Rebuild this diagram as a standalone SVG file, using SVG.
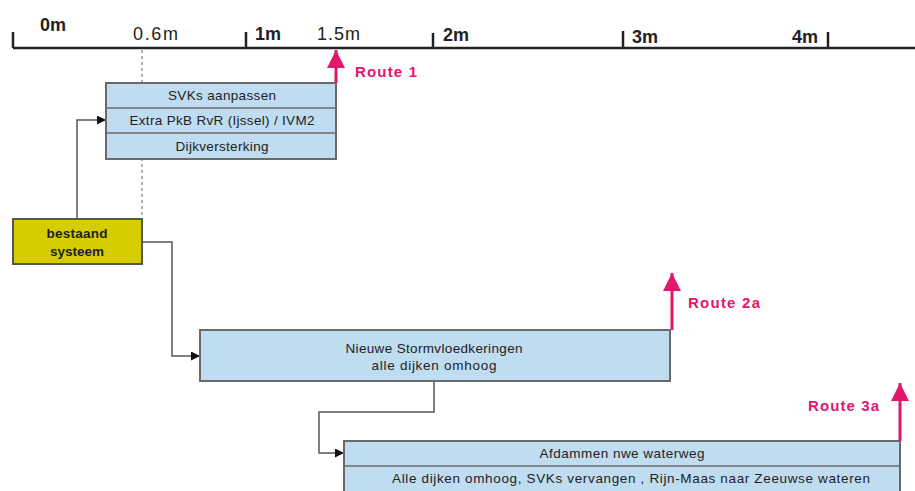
<svg xmlns="http://www.w3.org/2000/svg" width="915" height="491" viewBox="0 0 915 491">
<defs>
<marker id="arr" viewBox="0 0 10 10" refX="10" refY="5" markerWidth="9" markerHeight="9" markerUnits="userSpaceOnUse" orient="auto"><path d="M0,0 L10,5 L0,10 z" fill="#111"/></marker>
<marker id="parr" viewBox="0 0 10 10" refX="10" refY="5" markerWidth="18" markerHeight="18" markerUnits="userSpaceOnUse" orient="auto"><path d="M0,0 L10,5 L0,10 z" fill="#e3166d"/></marker>
</defs>
<style>
.ax{stroke:#222;stroke-width:2.5;fill:none}
.lb{font-family:"Liberation Sans",Arial,sans-serif;font-size:18px;fill:#222}
.b{font-weight:bold}
.box{fill:#bfdcf1;stroke:#6a6a6a;stroke-width:2}
.div{stroke:#6a6a6a;stroke-width:1.5}
.t{font-family:"Liberation Sans",Arial,sans-serif;font-size:13.5px;fill:#222;text-anchor:middle}
.con{stroke:#555;stroke-width:1.5;fill:none}
.route{stroke:#e3166d;stroke-width:3;fill:none}
.rl{font-family:"Liberation Sans",Arial,sans-serif;font-size:15px;font-weight:bold;fill:#e3166d}
</style>
<g id="axis">
<path class="ax" d="M13,48 H915 M13,32 V48 M246,32 V48 M433,33 V48 M623,31 V48 M828,32 V48"/>
<text class="lb b" x="40" y="31">0m</text>
<text class="lb" x="133" y="40" textLength="45">0.6m</text>
<text class="lb b" x="255" y="40">1m</text>
<text class="lb" x="317" y="40" textLength="43">1.5m</text>
<text class="lb b" x="443" y="41">2m</text>
<text class="lb b" x="632" y="43">3m</text>
<text class="lb b" x="792" y="43">4m</text>
<line x1="142" y1="50" x2="142" y2="219" stroke="#999" stroke-width="1.5" stroke-dasharray="3,3"/>
</g>
<g id="connectors">
<path class="con" d="M77,219 V120 H106" marker-end="url(#arr)"/>
<path class="con" d="M142,242 H172 V356 H200" marker-end="url(#arr)"/>
<path class="con" d="M434,381 V412 H319 V453 H344" marker-end="url(#arr)"/>
</g>
<g id="bestaand">
<rect x="13" y="219" width="129" height="45" fill="#d6cd00" stroke="#555" stroke-width="2"/>
<text class="t b" x="77" y="238" font-size="14" textLength="61">bestaand</text>
<text class="t b" x="77" y="256" font-size="14">systeem</text>
</g>
<g id="route1box">
<rect class="box" x="106" y="83" width="230" height="76"/>
<line class="div" x1="106" y1="108" x2="336" y2="108"/>
<line class="div" x1="106" y1="133" x2="336" y2="133"/>
<text class="t" x="222" y="100" textLength="108">SVKs aanpassen</text>
<text class="t" x="222" y="125" textLength="185">Extra PkB RvR (Ijssel) / IVM2</text>
<text class="t" x="222" y="151" textLength="93">Dijkversterking</text>
</g>
<g id="route1">
<line class="route" x1="336" y1="83" x2="336" y2="50" marker-end="url(#parr)"/>
<text class="rl" x="355" y="77" textLength="62">Route 1</text>
</g>
<g id="route2box">
<rect class="box" x="200" y="330" width="470" height="51"/>
<text class="t" x="434" y="353" textLength="177">Nieuwe Stormvloedkeringen</text>
<text class="t" x="434" y="370" textLength="125">alle dijken omhoog</text>
</g>
<g id="route2">
<line class="route" x1="672" y1="330" x2="672" y2="273" marker-end="url(#parr)"/>
<text class="rl" x="688" y="308" textLength="72">Route 2a</text>
</g>
<g id="route3box">
<rect class="box" x="344" y="441" width="556" height="60"/>
<line class="div" x1="344" y1="466" x2="900" y2="466"/>
<text class="t" x="622" y="458" textLength="165">Afdammen nwe waterweg</text>
<text class="t" x="631" y="483" textLength="478">Alle dijken omhoog, SVKs vervangen , Rijn-Maas naar Zeeuwse wateren</text>
</g>
<g id="route3">
<line class="route" x1="900" y1="441" x2="900" y2="383" marker-end="url(#parr)"/>
<text class="rl" x="808" y="411" textLength="71">Route 3a</text>
</g>
</svg>
